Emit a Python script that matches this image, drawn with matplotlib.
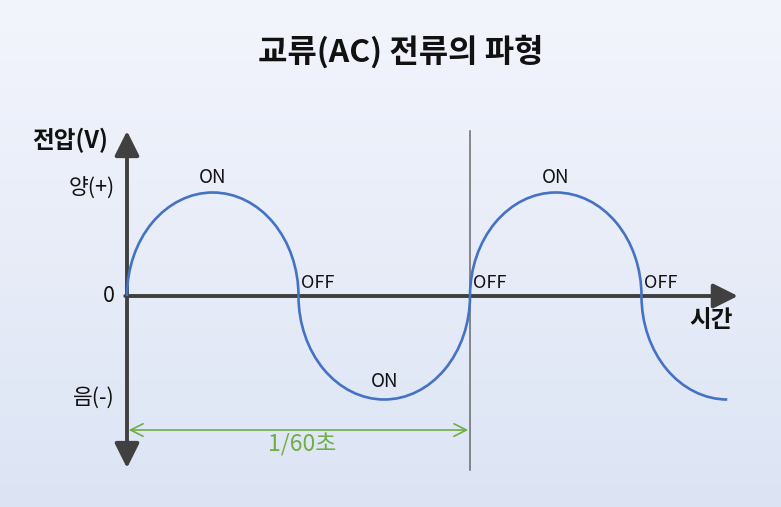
import matplotlib.pyplot as plt
import numpy as np
from matplotlib.patches import Arc, FancyArrowPatch, ArrowStyle

plt.rcParams['font.family'] = ['Noto Sans CJK KR', 'DejaVu Sans']

# Waveform: one half-cycle per arc, time in cycles (1 cycle = 1/60 s)
half_starts = [0.0, 0.5, 1.0, 1.5]
polarity = [1, -1, 1, -1]
drawn_part = [1.0, 1.0, 1.0, 0.5]
amplitude = 1.0
half_len = 0.5

on_label_x = [0.25, 1.25, 0.75]
on_label_y = [1.0, 1.0, -1.0]
off_label_x = [0.5, 1.0, 1.5]
y_labels = ["양(+)", "0", "음(-)"]
y_label_vals = [1.04, 0.0, -0.985]

blue = "#4472C4"
dark = "#404040"
green = "#70AD47"

fig = plt.figure(figsize=(7.81, 5.07), dpi=100)

# Background gradient
bg = fig.add_axes([0, 0, 1, 1])
grad = np.linspace(0, 1, 256).reshape(-1, 1)
top = np.array([243, 245, 252]) / 255
bot = np.array([220, 228, 244]) / 255
img = top + (bot - top) * grad[:, :, None]
bg.imshow(img, aspect="auto", extent=[0, 1, 0, 1])
bg.axis("off")

ax = fig.add_axes([0, 0, 1, 1])
ax.patch.set_visible(False)
ax.set_xlim(-127 / 343, (781 - 127) / 343)
ax.set_ylim(-211 / 103.5, 296 / 103.5)
ax.axis("off")

# Axes arrows
ax.add_patch(FancyArrowPatch((0, -1.662), (0, 1.594),
                             arrowstyle=ArrowStyle("<|-|>", head_length=15, head_width=7.5),
                             mutation_scale=1, lw=2.8, color=dark,
                             shrinkA=0, shrinkB=0, zorder=3))
ax.add_patch(FancyArrowPatch((-0.005, 0), (1.781, 0),
                             arrowstyle=ArrowStyle("-|>", head_length=15, head_width=7.5),
                             mutation_scale=1, lw=2.8, color=dark,
                             shrinkA=0, shrinkB=0, zorder=3))

# Period marker line
ax.plot([1.0, 1.0], [1.594, -1.681], color="#6a6a6a", lw=1.1, zorder=2)

# Waveform arcs
for start, sign, part in zip(half_starts, polarity, drawn_part):
    theta1 = 0 if sign > 0 else 180
    theta2 = theta1 + 180 * part
    ax.add_patch(Arc((start + half_len / 2, 0), half_len, 2 * amplitude,
                     theta1=theta1, theta2=theta2, color=blue, lw=1.9, zorder=4))

# ON / OFF labels
for x, y in zip(on_label_x, on_label_y):
    off = 0.04 if y > 0 else 0.07
    ax.text(x, y + off, "ON", ha="center", va="bottom", fontsize=13.5, color="#111111")
for x in off_label_x:
    ax.text(x + 0.008, 0.125, "OFF", ha="left", va="center", fontsize=13, color="#111111")

# Y labels
for lab, v in zip(y_labels, y_label_vals):
    ax.text(-0.035, v, lab, ha="right", va="center", fontsize=15.5, color="#111111")
ax.text(-0.055, 1.507, "전압(V)", ha="right", va="center", fontsize=17,
        fontweight="bold", color="#111111")
ax.text(1.703, -0.232, "시간", ha="center", va="center", fontsize=17,
        fontweight="bold", color="#111111")

# Period dimension
ax.add_patch(FancyArrowPatch((0.005, -1.295), (0.995, -1.295),
                             arrowstyle=ArrowStyle("<->", head_length=9, head_width=4.5),
                             mutation_scale=1, lw=1.2, color=green,
                             shrinkA=0, shrinkB=0, zorder=3))
ax.text(0.51, -1.44, "1/60초", ha="center", va="center", fontsize=16.5, color=green)

fig.text(401 / 781, 1 - 52 / 507, "교류(AC) 전류의 파형", ha="center", va="center",
         fontsize=23, fontweight="bold", color="#111111")

fig.savefig("out.png", dpi=100)
